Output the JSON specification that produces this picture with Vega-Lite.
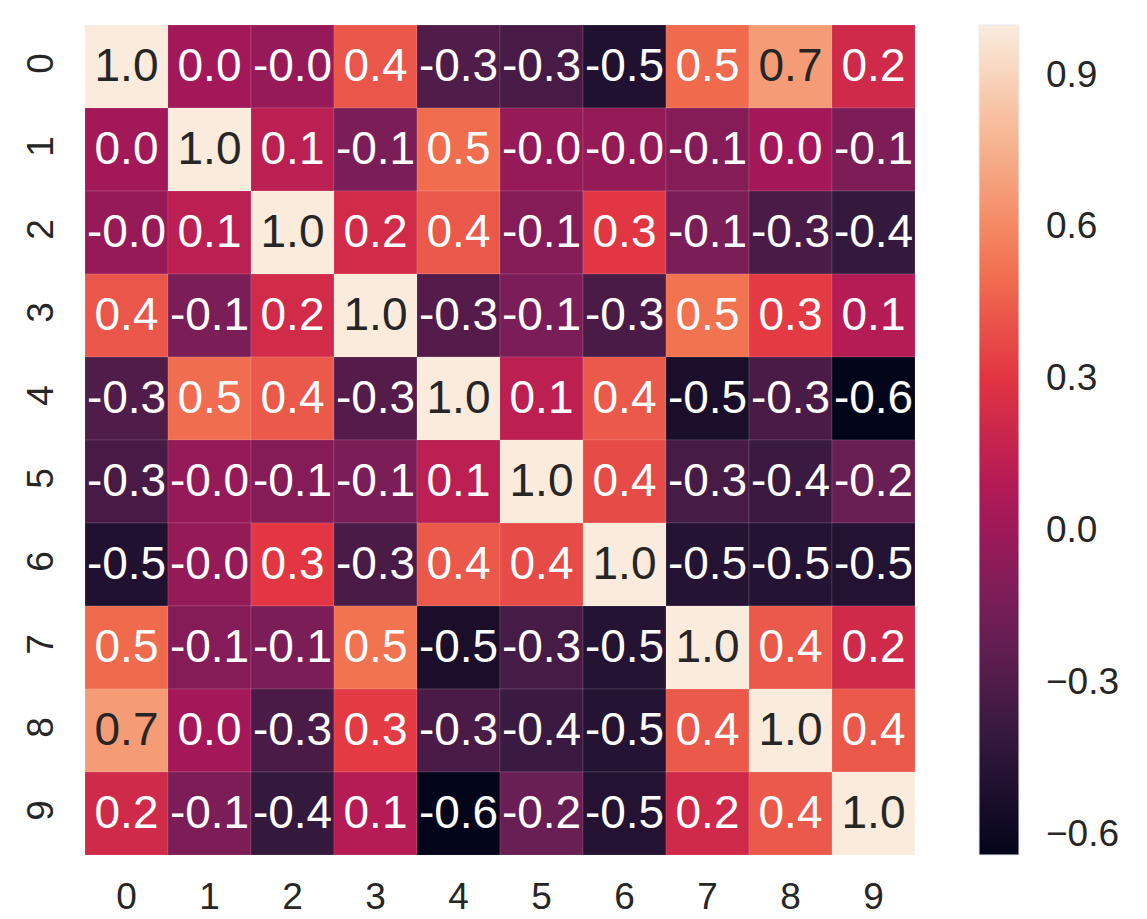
{
  "$schema": "https://vega.github.io/schema/vega-lite/v6.json",
  "width": 830,
  "height": 830,
  "autosize": {"type": "none"},
  "padding": {"left": 85, "top": 25, "right": 232, "bottom": 64},
  "background": "white",
  "config": {
    "view": {"stroke": null},
    "font": "Liberation Sans",
    "axis": {"domain": false, "ticks": false, "grid": false, "title": null, "labelFontSize": 37, "labelColor": "#262626", "labelFont": "Liberation Sans"},
    "legend": {"labelFont": "Liberation Sans"}
  },
  "data": {
    "values": [
      {"r": 0, "c": 0, "v": 1.00, "t": "1.0"}, {"r": 0, "c": 1, "v": 0.02, "t": "0.0"}, {"r": 0, "c": 2, "v": -0.02, "t": "-0.0"}, {"r": 0, "c": 3, "v": 0.42, "t": "0.4"}, {"r": 0, "c": 4, "v": -0.30, "t": "-0.3"}, {"r": 0, "c": 5, "v": -0.33, "t": "-0.3"}, {"r": 0, "c": 6, "v": -0.50, "t": "-0.5"}, {"r": 0, "c": 7, "v": 0.49, "t": "0.5"}, {"r": 0, "c": 8, "v": 0.67, "t": "0.7"}, {"r": 0, "c": 9, "v": 0.22, "t": "0.2"},
      {"r": 1, "c": 0, "v": 0.02, "t": "0.0"}, {"r": 1, "c": 1, "v": 1.00, "t": "1.0"}, {"r": 1, "c": 2, "v": 0.13, "t": "0.1"}, {"r": 1, "c": 3, "v": -0.13, "t": "-0.1"}, {"r": 1, "c": 4, "v": 0.50, "t": "0.5"}, {"r": 1, "c": 5, "v": -0.02, "t": "-0.0"}, {"r": 1, "c": 6, "v": -0.03, "t": "-0.0"}, {"r": 1, "c": 7, "v": -0.09, "t": "-0.1"}, {"r": 1, "c": 8, "v": 0.03, "t": "0.0"}, {"r": 1, "c": 9, "v": -0.12, "t": "-0.1"},
      {"r": 2, "c": 0, "v": -0.02, "t": "-0.0"}, {"r": 2, "c": 1, "v": 0.13, "t": "0.1"}, {"r": 2, "c": 2, "v": 1.00, "t": "1.0"}, {"r": 2, "c": 3, "v": 0.23, "t": "0.2"}, {"r": 2, "c": 4, "v": 0.43, "t": "0.4"}, {"r": 2, "c": 5, "v": -0.09, "t": "-0.1"}, {"r": 2, "c": 6, "v": 0.31, "t": "0.3"}, {"r": 2, "c": 7, "v": -0.13, "t": "-0.1"}, {"r": 2, "c": 8, "v": -0.32, "t": "-0.3"}, {"r": 2, "c": 9, "v": -0.41, "t": "-0.4"},
      {"r": 3, "c": 0, "v": 0.42, "t": "0.4"}, {"r": 3, "c": 1, "v": -0.13, "t": "-0.1"}, {"r": 3, "c": 2, "v": 0.23, "t": "0.2"}, {"r": 3, "c": 3, "v": 1.00, "t": "1.0"}, {"r": 3, "c": 4, "v": -0.28, "t": "-0.3"}, {"r": 3, "c": 5, "v": -0.13, "t": "-0.1"}, {"r": 3, "c": 6, "v": -0.32, "t": "-0.3"}, {"r": 3, "c": 7, "v": 0.52, "t": "0.5"}, {"r": 3, "c": 8, "v": 0.32, "t": "0.3"}, {"r": 3, "c": 9, "v": 0.10, "t": "0.1"},
      {"r": 4, "c": 0, "v": -0.30, "t": "-0.3"}, {"r": 4, "c": 1, "v": 0.50, "t": "0.5"}, {"r": 4, "c": 2, "v": 0.43, "t": "0.4"}, {"r": 4, "c": 3, "v": -0.28, "t": "-0.3"}, {"r": 4, "c": 4, "v": 1.00, "t": "1.0"}, {"r": 4, "c": 5, "v": 0.13, "t": "0.1"}, {"r": 4, "c": 6, "v": 0.43, "t": "0.4"}, {"r": 4, "c": 7, "v": -0.53, "t": "-0.5"}, {"r": 4, "c": 8, "v": -0.32, "t": "-0.3"}, {"r": 4, "c": 9, "v": -0.64, "t": "-0.6"},
      {"r": 5, "c": 0, "v": -0.33, "t": "-0.3"}, {"r": 5, "c": 1, "v": -0.02, "t": "-0.0"}, {"r": 5, "c": 2, "v": -0.09, "t": "-0.1"}, {"r": 5, "c": 3, "v": -0.13, "t": "-0.1"}, {"r": 5, "c": 4, "v": 0.13, "t": "0.1"}, {"r": 5, "c": 5, "v": 1.00, "t": "1.0"}, {"r": 5, "c": 6, "v": 0.38, "t": "0.4"}, {"r": 5, "c": 7, "v": -0.34, "t": "-0.3"}, {"r": 5, "c": 8, "v": -0.38, "t": "-0.4"}, {"r": 5, "c": 9, "v": -0.20, "t": "-0.2"},
      {"r": 6, "c": 0, "v": -0.50, "t": "-0.5"}, {"r": 6, "c": 1, "v": -0.03, "t": "-0.0"}, {"r": 6, "c": 2, "v": 0.31, "t": "0.3"}, {"r": 6, "c": 3, "v": -0.32, "t": "-0.3"}, {"r": 6, "c": 4, "v": 0.43, "t": "0.4"}, {"r": 6, "c": 5, "v": 0.38, "t": "0.4"}, {"r": 6, "c": 6, "v": 1.00, "t": "1.0"}, {"r": 6, "c": 7, "v": -0.48, "t": "-0.5"}, {"r": 6, "c": 8, "v": -0.48, "t": "-0.5"}, {"r": 6, "c": 9, "v": -0.49, "t": "-0.5"},
      {"r": 7, "c": 0, "v": 0.49, "t": "0.5"}, {"r": 7, "c": 1, "v": -0.09, "t": "-0.1"}, {"r": 7, "c": 2, "v": -0.13, "t": "-0.1"}, {"r": 7, "c": 3, "v": 0.52, "t": "0.5"}, {"r": 7, "c": 4, "v": -0.53, "t": "-0.5"}, {"r": 7, "c": 5, "v": -0.34, "t": "-0.3"}, {"r": 7, "c": 6, "v": -0.48, "t": "-0.5"}, {"r": 7, "c": 7, "v": 1.00, "t": "1.0"}, {"r": 7, "c": 8, "v": 0.43, "t": "0.4"}, {"r": 7, "c": 9, "v": 0.22, "t": "0.2"},
      {"r": 8, "c": 0, "v": 0.67, "t": "0.7"}, {"r": 8, "c": 1, "v": 0.03, "t": "0.0"}, {"r": 8, "c": 2, "v": -0.32, "t": "-0.3"}, {"r": 8, "c": 3, "v": 0.32, "t": "0.3"}, {"r": 8, "c": 4, "v": -0.32, "t": "-0.3"}, {"r": 8, "c": 5, "v": -0.38, "t": "-0.4"}, {"r": 8, "c": 6, "v": -0.48, "t": "-0.5"}, {"r": 8, "c": 7, "v": 0.43, "t": "0.4"}, {"r": 8, "c": 8, "v": 1.00, "t": "1.0"}, {"r": 8, "c": 9, "v": 0.43, "t": "0.4"},
      {"r": 9, "c": 0, "v": 0.22, "t": "0.2"}, {"r": 9, "c": 1, "v": -0.12, "t": "-0.1"}, {"r": 9, "c": 2, "v": -0.41, "t": "-0.4"}, {"r": 9, "c": 3, "v": 0.10, "t": "0.1"}, {"r": 9, "c": 4, "v": -0.64, "t": "-0.6"}, {"r": 9, "c": 5, "v": -0.20, "t": "-0.2"}, {"r": 9, "c": 6, "v": -0.49, "t": "-0.5"}, {"r": 9, "c": 7, "v": 0.22, "t": "0.2"}, {"r": 9, "c": 8, "v": 0.43, "t": "0.4"}, {"r": 9, "c": 9, "v": 1.00, "t": "1.0"}
    ]
  },
  "encoding": {
    "x": {"field": "c", "type": "ordinal", "scale": {"paddingInner": 0, "paddingOuter": 0}, "axis": {"orient": "bottom", "labelAngle": 0, "labelPadding": 24}},
    "y": {"field": "r", "type": "ordinal", "scale": {"paddingInner": 0, "paddingOuter": 0}, "axis": {"orient": "left", "labelAngle": 270, "labelAlign": "center", "labelBaseline": "bottom", "labelPadding": 25, "labelOffset": -3}}
  },
  "layer": [
    {
      "mark": {"type": "rect", "stroke": "#ffffff", "strokeOpacity": 0.12, "strokeWidth": 1},
      "encoding": {
        "color": {
          "field": "v",
          "type": "quantitative",
          "scale": {
            "type": "linear",
            "domain": [-0.64, -0.4057, -0.1714, 0.0629, 0.2971, 0.5314, 0.7657, 1.0],
            "range": ["#03051a", "#35193e", "#701f57", "#ad1759", "#e13342", "#f37651", "#f6b48f", "#faebdd"],
            "interpolate": "rgb"
          },
          "legend": {
            "orient": "none",
            "legendX": 894,
            "legendY": 0,
            "direction": "vertical",
            "title": null,
            "gradientLength": 830,
            "gradientThickness": 40,
            "gradientStrokeColor": "#eaeaf2",
            "gradientStrokeWidth": 1,
            "values": [-0.6, -0.3, 0, 0.3, 0.6, 0.9],
            "format": ".1f",
            "labelFontSize": 37,
            "labelColor": "#262626",
            "labelOffset": 27,
            "labelOverlap": false,
            "labelLimit": 300,
            "padding": 0,
            "offset": 0
          }
        }
      }
    },
    {
      "mark": {"type": "text", "fontSize": 46, "font": "Liberation Sans", "baseline": "middle", "align": "center"},
      "encoding": {
        "text": {"field": "t", "type": "nominal"},
        "color": {"condition": {"test": "datum.v > 0.6", "value": "#262626"}, "value": "#ffffff"}
      }
    }
  ]
}
